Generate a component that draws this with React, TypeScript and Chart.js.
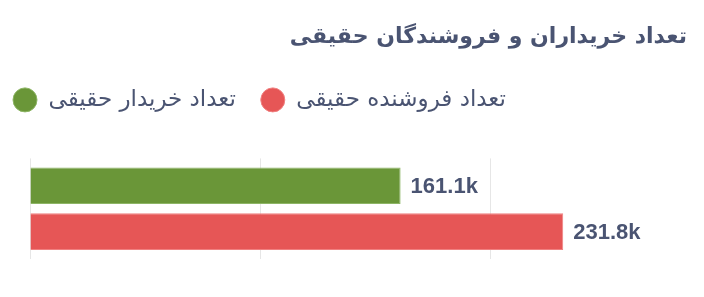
import React, { useEffect, useRef } from "react";
import { Chart, registerables } from "chart.js";

Chart.register(...registerables);

const titleText = "تعداد خریداران و فروشندگان حقیقی";
const categories = ["حقیقی"];
const seriesNames = ["تعداد خریدار حقیقی", "تعداد فروشنده حقیقی"];
const buyerValues = [161100];
const sellerValues = [231800];
const gridTicks = [0, 100000, 200000];

const TEXT_COLOR = "#4a5472";
const PERSIAN_FONT = "'DejaVu Sans', sans-serif";

const fmtK = (v: number) => (v / 1000).toFixed(1) + "k";

const valueLabels = {
  id: "valueLabels",
  afterDatasetsDraw(chart: any) {
    const ctx = chart.ctx;
    ctx.save();
    ctx.font = "bold 22px 'Liberation Sans', Arial, sans-serif";
    ctx.fillStyle = TEXT_COLOR;
    ctx.textAlign = "left";
    ctx.textBaseline = "middle";
    chart.data.datasets.forEach((ds: any, di: number) => {
      const meta = chart.getDatasetMeta(di);
      if (meta.hidden) return;
      meta.data.forEach((bar: any, i: number) => {
        ctx.fillText(fmtK(ds.data[i]), bar.x + 10, bar.y + 1);
      });
    });
    ctx.restore();
  },
};

const legendGap = {
  id: "legendGap",
  beforeLayout(chart: any) {
    const lg = chart.legend;
    if (lg && !lg._gapPatched) {
      const orig = lg.fit;
      lg.fit = function () {
        orig.call(this);
        this.height += 37;
      };
      lg._gapPatched = true;
    }
  },
};

export default function App() {
  const ref = useRef<HTMLCanvasElement>(null);
  useEffect(() => {
    if (!ref.current) return;
    const chart = new Chart(ref.current, {
      type: "bar",
      data: {
        labels: categories,
        datasets: [
          {
            label: seriesNames[0],
            data: buyerValues,
            backgroundColor: "#6a9638",
            borderColor: "#8db565",
            borderWidth: 1,
            barPercentage: 0.8,
            categoryPercentage: 0.91,
          },
          {
            label: seriesNames[1],
            data: sellerValues,
            backgroundColor: "#e65656",
            borderColor: "#f08080",
            borderWidth: 1,
            barPercentage: 0.8,
            categoryPercentage: 0.91,
          },
        ],
      },
      options: {
        indexAxis: "y",
        animation: false,
        responsive: true,
        maintainAspectRatio: false,
        layout: { padding: { left: -20, right: 9, top: 8, bottom: 30 } },
        scales: {
          x: {
            min: 0,
            max: 285600,
            afterBuildTicks: (scale: any) => {
              scale.ticks = gridTicks.map((v) => ({ value: v }));
            },
            ticks: { display: false },
            grid: { color: "#e6e6e6", drawTicks: false, lineWidth: 1 },
            border: { display: false },
          },
          y: {
            display: true,
            ticks: { display: false },
            grid: { display: false },
            border: { display: false },
            afterFit: (scale: any) => {
              scale.width = 42;
            },
          },
        },
        plugins: {
          title: {
            display: true,
            text: titleText,
            align: "end",
            color: TEXT_COLOR,
            font: { family: PERSIAN_FONT, size: 22, weight: "bold" },
            padding: { top: 8, bottom: 13 },
          },
          legend: {
            display: true,
            align: "start",
            labels: {
              usePointStyle: true,
              pointStyle: "circle",
              pointStyleWidth: 24,
              boxWidth: 24,
              boxHeight: 17,
              padding: 25,
              color: TEXT_COLOR,
              font: { family: PERSIAN_FONT, size: 23 },
            },
          },
          tooltip: { enabled: false },
        },
      },
      plugins: [valueLabels, legendGap],
    });
    return () => chart.destroy();
  }, []);
  return (
    <div style={{ width: 688, height: 281, position: "relative" }}>
      <canvas ref={ref} />
    </div>
  );
}
